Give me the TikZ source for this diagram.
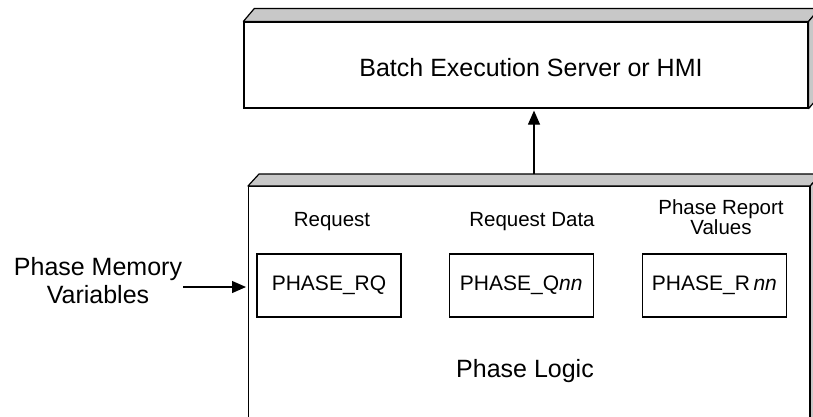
\documentclass[tikz,border=0pt]{standalone}
\usepackage{fontspec}
\setmainfont{Liberation Sans}
\usetikzlibrary{positioning,arrows.meta}
\definecolor{facegray}{RGB}{200,200,200}

\begin{document}
\begin{tikzpicture}[x=1pt, y=-1pt, line width=1.2pt,
  >={Triangle[length=14pt, width=12pt]},
  front/.style={draw, fill=white, inner sep=0pt},
  slab/.style={draw, fill=facegray, line join=round},
  var/.style={draw, inner sep=0pt, minimum width=144pt, minimum height=63pt, font=\fontsize{21}{24}\selectfont},
  big/.style={font=\fontsize{25}{28}\selectfont, align=center},
  lbl/.style={font=\fontsize{20.5}{20}\selectfont, align=center}
]
\useasboundingbox (0,0) rectangle (813,416);
\clip (0,0) rectangle (813,416);

% Server block
\node[front, minimum width=564pt, minimum height=86pt] (server) at (526,65) {};
\draw[slab] (server.north west) -- ++(11,-13) -- ([shift={(11,-13)}]server.north east) -- (server.north east) -- cycle;
\draw[slab] (server.north east) -- ++(11,-13) -- ([shift={(11,-13)}]server.south east) -- (server.south east) -- cycle;
\node[big, anchor=base] (servername) at (531,76) {Batch Execution Server or HMI};

% Phase logic block
\node[front, anchor=north west, minimum width=561pt, minimum height=300pt] (logic) at (248,186) {};
\draw[slab] (logic.north west) -- ++(11,-12) -- ([shift={(11,-12)}]logic.north east) -- (logic.north east) -- cycle;
\draw[slab] (logic.north east) -- ++(11,-12) -- ([shift={(11,-12)}]logic.south east) -- (logic.south east) -- cycle;
\node[big, anchor=base] (logicname) at (525,377) {Phase Logic};

% Memory variables
\node[var] (rq) at (329,285.5) {PHASE\_RQ};
\node[var, right=47pt of rq] (qnn) {PHASE\_Q\textit{nn}};
\node[var, right=48pt of qnn] (rnn) {PHASE\_R\,\textit{nn}};

\node[lbl, anchor=base] (rqlabel) at (332,226) {Request};
\node[lbl, anchor=base] (qnnlabel) at (532,226) {Request Data};
\node[lbl] (rnnlabel) at (721,217) {Phase Report\\Values};

\node[big] (memvars) at (98,281) {Phase Memory\\Variables};

% Arrows
\coordinate (memin) at (183,287);
\draw[->, shorten >=2pt] (memin) -- (memin -| logic.west);
\coordinate (uplink) at (534,174);
\draw[->, shorten >=2pt] (uplink) -- (uplink |- server.south);

\end{tikzpicture}
\end{document}
